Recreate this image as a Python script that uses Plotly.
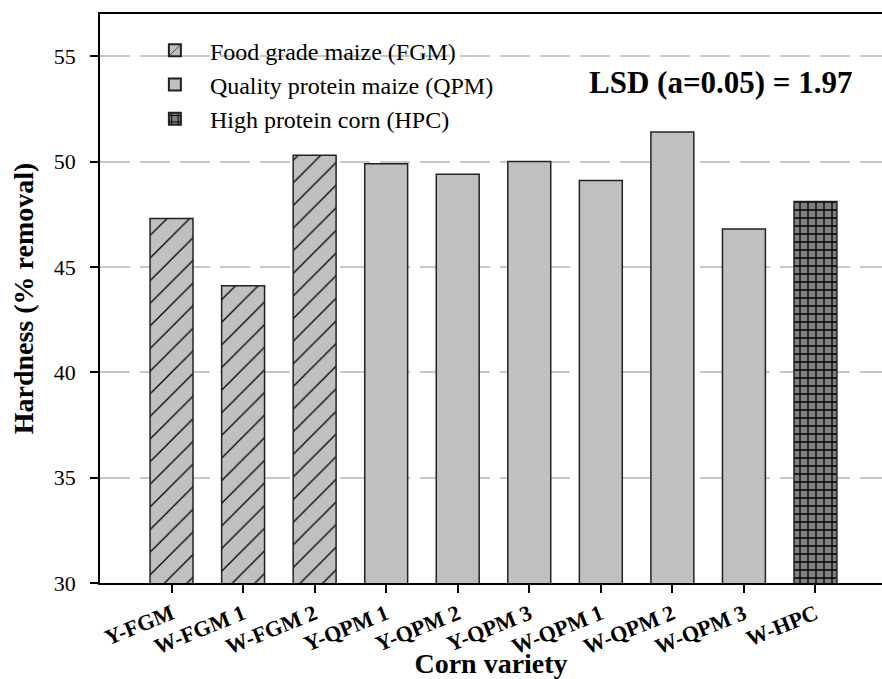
import plotly.graph_objects as go

categories = ["Y-FGM", "W-FGM 1", "W-FGM 2", "Y-QPM 1", "Y-QPM 2", "Y-QPM 3",
              "W-QPM 1", "W-QPM 2", "W-QPM 3", "W-HPC"]
hardness = [47.3, 44.1, 50.3, 49.9, 49.4, 50.0, 49.1, 51.4, 46.8, 48.1]
groups = ["FGM", "FGM", "FGM", "QPM", "QPM", "QPM", "QPM", "QPM", "QPM", "HPC"]
group_names = {
    "FGM": "Food grade maize (FGM)",
    "QPM": "Quality protein maize (QPM)",
    "HPC": "High protein corn (HPC)",
}
y_ticks = [30, 35, 40, 45, 50, 55]

FONT = "Liberation Serif"

styles = {
    "FGM": dict(color="#c0c0c0",
                pattern=dict(shape="/", fgcolor="#000000", bgcolor="#c0c0c0",
                             size=16, solidity=0.08, fillmode="replace")),
    "QPM": dict(color="#c0c0c0"),
    "HPC": dict(color="#808080",
                pattern=dict(shape="+", fgcolor="#000000", bgcolor="#808080",
                             size=8, solidity=0.3, fillmode="replace")),
}

fig = go.Figure()
for g in ["FGM", "QPM", "HPC"]:
    xs = [c for c, gg in zip(categories, groups) if gg == g]
    ys = [v for v, gg in zip(hardness, groups) if gg == g]
    fig.add_trace(go.Bar(
        x=xs, y=ys, name=group_names[g], width=0.6,
        marker=dict(line=dict(color="#222222", width=1.5), **styles[g]),
    ))

fig.update_layout(
    width=882, height=679,
    margin=dict(l=100, r=0, t=14, b=96),
    plot_bgcolor="white", paper_bgcolor="white",
    barmode="overlay",
    font=dict(family=FONT, color="#000000"),
    showlegend=True,
    legend=dict(x=0.051, y=0.975, xanchor="left", yanchor="top",
                font=dict(family=FONT, size=24, color="#000"),
                bgcolor="rgba(0,0,0,0)", tracegroupgap=0,
                itemwidth=60, itemsizing="constant"),
    annotations=[dict(
        text="<b>LSD (a=0.05) = 1.97</b>", xref="paper", yref="paper",
        x=0.965, y=0.88, xanchor="right", yanchor="middle", showarrow=False,
        font=dict(family=FONT, size=31, color="#000"),
    )],
)

fig.update_xaxes(
    type="category", categoryorder="array", categoryarray=categories,
    range=[-1, 9.93], automargin=False,
    showline=True, linecolor="#000", linewidth=1.5, mirror=True,
    ticks="outside", ticklen=8, tickwidth=1.5, tickcolor="#000",
    tickangle=-22,
    tickfont=dict(family=FONT, size=22, color="#000"),
    tickprefix="<b>", ticksuffix="</b>",
    title=dict(text="<b>Corn variety</b>", font=dict(family=FONT, size=28), standoff=4),
    showgrid=False, zeroline=False,
)
fig.update_yaxes(
    range=[30, 57], tickvals=y_ticks, automargin=False,
    showline=True, linecolor="#000", linewidth=1.5,
    ticks="outside", ticklen=8, tickwidth=1.5, tickcolor="#000",
    ticklabelstandoff=10,
    tickfont=dict(family=FONT, size=22, color="#000"),
    title=dict(text="<b>Hardness (% removal)</b>", font=dict(family=FONT, size=28), standoff=12),
    showgrid=True, gridcolor="#c8c8c8", gridwidth=2, griddash="30px,10px",
    zeroline=False,
)

fig.write_html("out.html")
